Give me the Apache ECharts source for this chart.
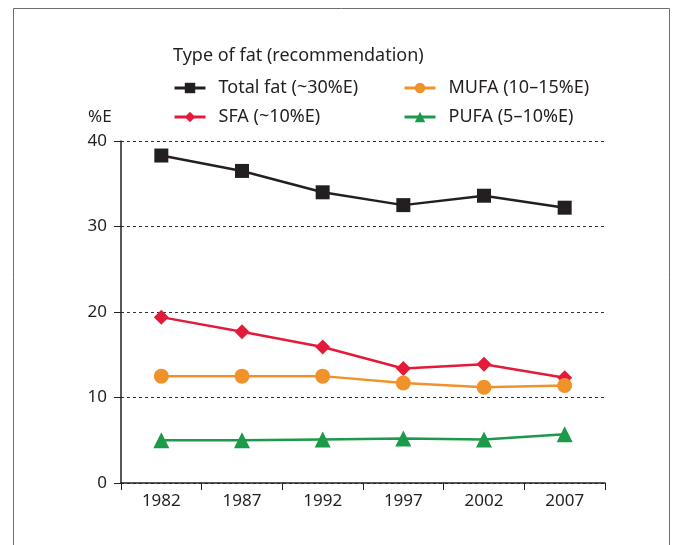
<!DOCTYPE html>
<html><head><meta charset="utf-8">
<script src="https://cdn.jsdelivr.net/npm/echarts@6/dist/echarts.min.js"></script>
<style>html,body{margin:0;padding:0;background:#fff}#c{width:679px;height:545px}</style>
</head><body><div id="c"></div>
<script>
const years = ['1982','1987','1992','1997','2002','2007'];
const totalFat = [38.3, 36.5, 34.0, 32.5, 33.6, 32.2];
const sfa = [19.4, 17.7, 15.9, 13.4, 13.9, 12.3];
const mufa = [12.5, 12.5, 12.5, 11.7, 11.2, 11.4];
const pufa = [5.0, 5.0, 5.1, 5.2, 5.1, 5.7];
const yTicks = [0, 10, 20, 30, 40];

const FONT = '"Noto Sans", sans-serif';
const TXT = '#231f20';
function ser(name, data, color, symbol, size) {
  return { name, type: 'line', data, symbol, symbolSize: size,
    lineStyle: { color, width: 2.5 }, itemStyle: { color },
    emphasis: { disabled: true } };
}
const legendCommon = {
  orient: 'vertical', top: 73, itemWidth: 31, itemHeight: 13, itemGap: 9,
  lineStyle: { width: 3 },
  textStyle: { fontFamily: FONT, fontSize: 18, color: TXT, lineHeight: 20, padding: [0, 0, 0, 8] }
};
const chart = echarts.init(document.getElementById('c'), null, { renderer: 'canvas' });
chart.setOption({
  animation: false,
  textStyle: { fontFamily: FONT, color: TXT },
  graphic: [{ type: 'rect', shape: { x: 13.5, y: 8.5, width: 656, height: 600 },
    style: { fill: 'none', stroke: '#6d6e71', lineWidth: 1 }, silent: true }],
  title: [
    { text: 'Type of fat (recommendation)', left: 168, top: 42,
      textStyle: { fontFamily: FONT, fontSize: 18, fontWeight: 'normal', color: TXT } },
    { text: '%E', left: 83, top: 104,
      textStyle: { fontFamily: FONT, fontSize: 17, fontWeight: 'normal', color: TXT } }
  ],
  legend: [
    Object.assign({ data: ['Total fat (~30%E)', 'SFA (~10%E)'], left: 168 }, legendCommon),
    Object.assign({ data: ['MUFA (10–15%E)', 'PUFA (5–10%E)'], left: 398 }, legendCommon)
  ],
  grid: { left: 121, right: 74, top: 141, bottom: 62, containLabel: false },
  xAxis: { type: 'category', data: years, boundaryGap: true,
    axisLine: { lineStyle: { color: TXT, width: 1.5 } },
    axisTick: { show: true, length: 7, lineStyle: { color: TXT } },
    axisLabel: { fontFamily: FONT, fontSize: 17, color: TXT, margin: 10 },
    splitLine: { show: false } },
  yAxis: { type: 'value', min: yTicks[0], max: yTicks[yTicks.length - 1], interval: 10,
    axisLine: { show: true, lineStyle: { color: TXT, width: 1.5 } },
    axisTick: { show: true, length: 7, lineStyle: { color: TXT } },
    axisLabel: { fontFamily: FONT, fontSize: 17, color: TXT, margin: 14 },
    splitLine: { show: true, lineStyle: { color: '#333', type: [3, 3], width: 1 } } },
  series: [
    ser('Total fat (~30%E)', totalFat, '#231f20', 'rect', 14),
    ser('SFA (~10%E)', sfa, '#e31b3b', 'diamond', 15),
    ser('MUFA (10–15%E)', mufa, '#f0922a', 'circle', 15),
    ser('PUFA (5–10%E)', pufa, '#1b9a49', 'triangle', 16)
  ]
});
</script></body></html>
